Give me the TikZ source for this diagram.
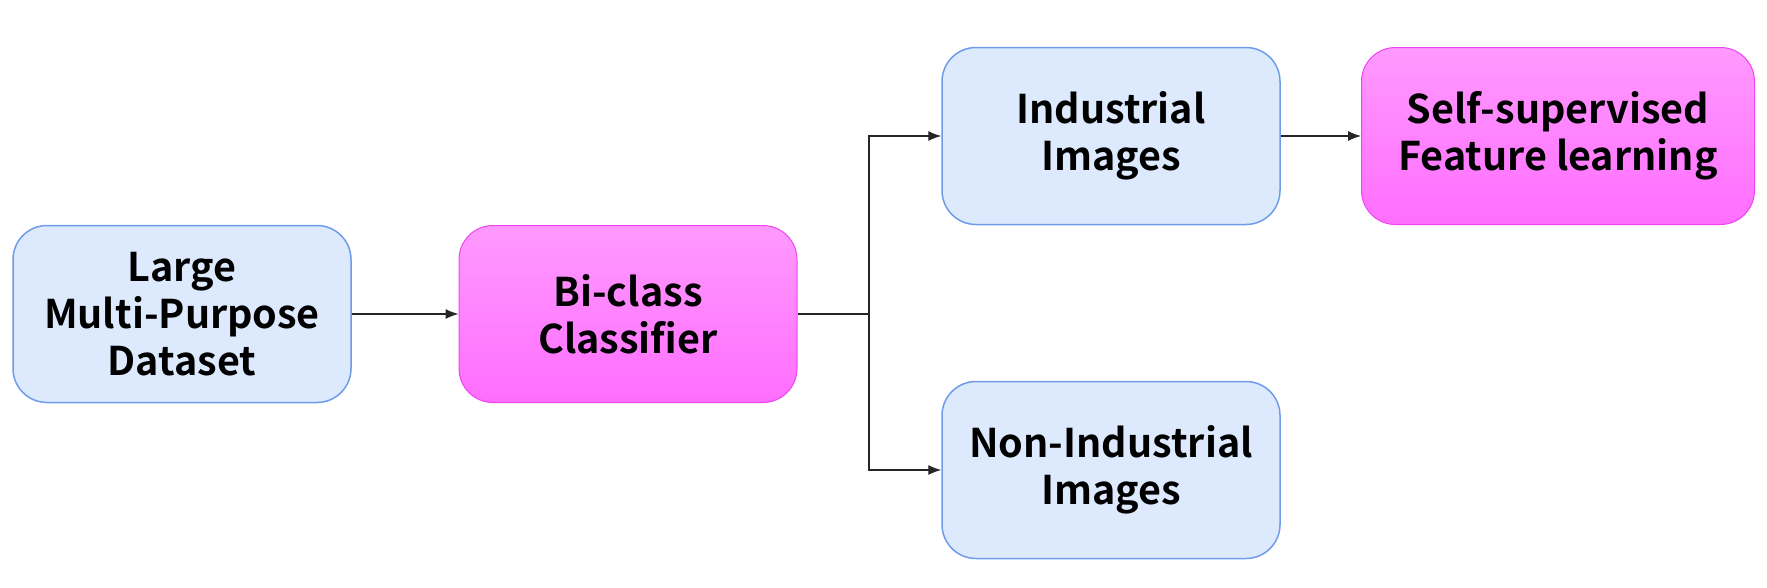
\documentclass[tikz,border=0pt]{standalone}
\usepackage{fontspec}
\setmainfont{Noto Sans CJK JP}[BoldFont={* Bold}]
\usetikzlibrary{shapes,arrows.meta}
\usetikzlibrary{positioning}
\definecolor{boxblue}{HTML}{DDEAFE}
\definecolor{lineblue}{HTML}{6E9BEA}
\definecolor{pinktop}{HTML}{FF99FF}
\definecolor{pinkbot}{HTML}{FF6EFF}
\definecolor{pinkline}{HTML}{EE44EE}
\tikzstyle{data} = [draw=lineblue, line width=1.5pt, fill=boxblue, rounded corners=34pt,
minimum width=338pt, minimum height=177pt, align=center]
\tikzstyle{proc} = [draw=pinkline, line width=1pt, top color=pinktop, bottom color=pinkbot,
rounded corners=34pt, minimum width=338pt, minimum height=177pt, align=center]
\tikzstyle{line} = [draw, -{Latex[length=13pt, width=10pt]}, line width=1.1pt, color=black!85]

\begin{document}
\begin{tikzpicture}[x=1pt, y=-1pt,
	font=\fontsize{39.5}{47}\selectfont\bfseries]
	\useasboundingbox (0,0) rectangle (1767,587);
	\node [data] (D) at (182,314) {Large\\Multi-Purpose\\Dataset};
	\node [proc] (C) at (628,314) {Bi-class\\Classifier};
	\node [data] (I) at (1111,136) {Industrial\\Images};
	\node [data] (N) at (1111,470) {Non-Industrial\\Images};
	\node [proc, minimum width=393pt] (F) at (1558,136) {Self-supervised\\Feature learning};
	\coordinate (J) at (869,314);
	%% Flows
	\path [line] (D) -- (C);
	\draw [line width=1.1pt, color=black!85] (C) -- (J);
	\path [line] (J) |- (I.west);
	\path [line] (J) |- (N.west);
	\path [line] (I) -- (F);
\end{tikzpicture}
\end{document}
